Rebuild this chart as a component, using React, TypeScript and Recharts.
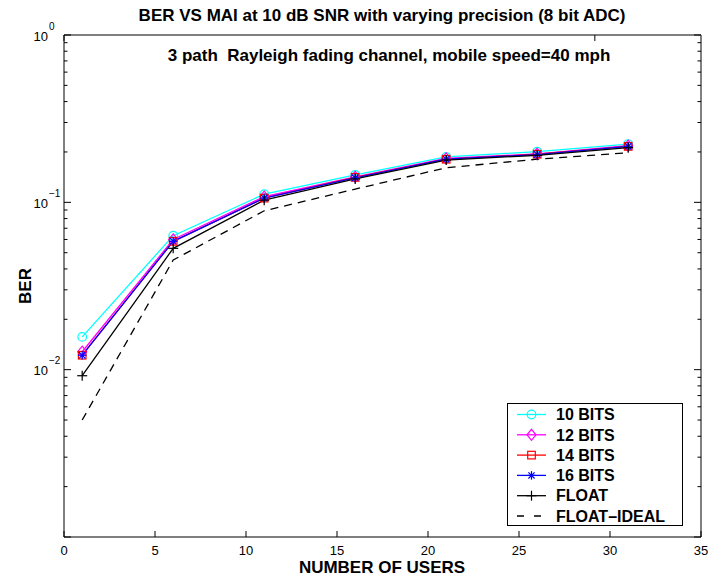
import { LineChart, Line, XAxis, YAxis, Legend } from 'recharts';

// number of users on the x axis
const users = [1, 6, 11, 16, 21, 26, 31];

// BER for each receiver precision
const bits10 = [0.0157, 0.0632, 0.112, 0.146, 0.187, 0.201, 0.223];
const bits12 = [0.0128, 0.0600, 0.108, 0.142, 0.183, 0.195, 0.218];
const bits14 = [0.0122, 0.0585, 0.106, 0.141, 0.181, 0.194, 0.216];
const bits16 = [0.0122, 0.0585, 0.106, 0.140, 0.181, 0.193, 0.216];
const floatBer = [0.0092, 0.0531, 0.103, 0.138, 0.179, 0.191, 0.212];
const floatIdeal = [0.0050, 0.0452, 0.089, 0.120, 0.161, 0.181, 0.198];

const xTicks = [0, 5, 10, 15, 20, 25, 30, 35];
const yDecades = [0.001, 0.01, 0.1, 1];
const yMinorSteps = [2, 3, 4, 5, 6, 7, 8, 9];
const yLabelValues = [1, 0.1, 0.01];
const yLabelExps = ['0', '\u22121', '\u22122'];

const TITLE = 'BER VS MAI at 10 dB SNR with varying precision (8 bit ADC)';
const NOTE = '3 path  Rayleigh fading channel, mobile speed=40 mph';

const FONT = '"Liberation Sans", Arial, Helvetica, sans-serif';

const SERIES = [
  { key: 'b10', name: '10 BITS', color: '#00ffff', marker: 'circle', values: bits10 },
  { key: 'b12', name: '12 BITS', color: '#ff00ff', marker: 'diamond', values: bits12 },
  { key: 'b14', name: '14 BITS', color: '#ff0000', marker: 'square', values: bits14 },
  { key: 'b16', name: '16 BITS', color: '#0000ff', marker: 'star', values: bits16 },
  { key: 'flt', name: 'FLOAT', color: '#000000', marker: 'plus', values: floatBer },
  { key: 'ideal', name: 'FLOAT\u2013IDEAL', color: '#000000', marker: '', values: floatIdeal, dash: true }
];

const data = users.map((u, i) => {
  const row: Record<string, number> = { users: u };
  SERIES.forEach((s) => { row[s.key] = s.values[i]; });
  return row;
});

const yTicks = [
  ...yDecades,
  ...yDecades.slice(0, 3).flatMap((d) => yMinorSteps.map((m) => +(d * m).toPrecision(3)))
].sort((a, b) => a - b);

function Marker({ type, cx, cy, color }: { type: string; cx: number; cy: number; color: string }) {
  const sw = 1.2;
  switch (type) {
    case 'circle':
      return <circle cx={cx} cy={cy} r={4.3} fill="none" stroke={color} strokeWidth={sw} />;
    case 'diamond':
      return (
        <polygon
          points={`${cx},${cy - 5.5} ${cx + 4.5},${cy} ${cx},${cy + 5.5} ${cx - 4.5},${cy}`}
          fill="none" stroke={color} strokeWidth={sw}
        />
      );
    case 'square':
      return <rect x={cx - 3.8} y={cy - 3.8} width={7.6} height={7.6} fill="none" stroke={color} strokeWidth={sw} />;
    case 'star': {
      const r = 4.3, d = 3.1;
      return (
        <g stroke={color} strokeWidth={sw}>
          <line x1={cx - r} x2={cx + r} y1={cy} y2={cy} />
          <line x1={cx} x2={cx} y1={cy - r} y2={cy + r} />
          <line x1={cx - d} x2={cx + d} y1={cy - d} y2={cy + d} />
          <line x1={cx - d} x2={cx + d} y1={cy + d} y2={cy - d} />
        </g>
      );
    }
    case 'plus': {
      const r = 5;
      return (
        <g stroke={color} strokeWidth={sw}>
          <line x1={cx - r} x2={cx + r} y1={cy} y2={cy} />
          <line x1={cx} x2={cx} y1={cy - r} y2={cy + r} />
        </g>
      );
    }
    default:
      return null;
  }
}

const makeDot = (type: string, color: string) => (props: any) => (
  <g key={`dot-${type}-${props.index}`}>
    {type ? <Marker type={type} cx={props.cx} cy={props.cy} color={color} /> : null}
  </g>
);

const BottomTick = ({ x, y, payload }: any) => (
  <g>
    <line x1={x} x2={x} y1={y} y2={y - 6} stroke="#000" />
    <text x={x} y={y + 18} textAnchor="middle" fontSize={13} fontFamily={FONT} fill="#000">
      {payload.value}
    </text>
  </g>
);

const TopTick = ({ x, y }: any) => <line x1={x} x2={x} y1={y} y2={y + 6} stroke="#000" />;

const LeftTick = ({ x, y, payload }: any) => {
  const major = yDecades.includes(payload.value);
  const li = yLabelValues.indexOf(payload.value);
  return (
    <g>
      <line x1={x} x2={x + (major ? 7 : 3.5)} y1={y} y2={y} stroke="#000" />
      {li >= 0 && (
        <g fontFamily={FONT} fill="#000">
          <text x={x - 16} y={y + 5.5} textAnchor="end" fontSize={13}>10</text>
          <text x={x - 15} y={y - 5.5} textAnchor="start" fontSize={10}>{yLabelExps[li]}</text>
        </g>
      )}
    </g>
  );
};

const RightTick = ({ x, y, payload }: any) => {
  const major = yDecades.includes(payload.value);
  return <line x1={x} x2={x - (major ? 7 : 3.5)} y1={y} y2={y} stroke="#000" />;
};

const LegendBox = () => (
  <svg width={176} height={123} style={{ display: 'block' }}>
    <rect x={0.5} y={0.5} width={175} height={122} fill="#fff" stroke="#000" />
    {SERIES.map((s, i) => {
      const y = 11.5 + i * 20.3;
      return (
        <g key={s.key}>
          <line x1={10} x2={39} y1={y} y2={y} stroke={s.color} strokeWidth={1.3}
            strokeDasharray={s.dash ? '7 10' : undefined} />
          <Marker type={s.marker} cx={24.5} cy={y} color={s.color} />
          <text x={49} y={y + 5.7} fontSize={16} fontWeight="bold" fontFamily={FONT} fill="#000">
            {s.name}
          </text>
        </g>
      );
    })}
  </svg>
);

export default function App() {
  return (
    <div style={{ position: 'absolute', left: 0, top: 0, width: 708, height: 580, background: '#fff' }}>
      <LineChart width={708} height={580} data={data} margin={{ top: 0, right: 0, bottom: 0, left: 0 }}>
        <XAxis
          dataKey="users" type="number" domain={[0, 35]} ticks={xTicks} interval={0}
          height={43} tickSize={0} tickMargin={0} tickLine={false}
          axisLine={{ stroke: '#000' }} tick={<BottomTick />} allowDataOverflow
        />
        <XAxis
          xAxisId="top" orientation="top" type="number" domain={[0, 35]} ticks={xTicks} interval={0}
          height={35} tickSize={0} tickMargin={0} tickLine={false}
          axisLine={{ stroke: '#000' }} tick={<TopTick />} allowDataOverflow
        />
        <YAxis
          type="number" scale="log" domain={[0.001, 1]} ticks={yTicks} interval={0}
          width={64} tickSize={0} tickMargin={0} tickLine={false}
          axisLine={{ stroke: '#000' }} tick={<LeftTick />} allowDataOverflow
        />
        <YAxis
          yAxisId="right" orientation="right" type="number" scale="log" domain={[0.001, 1]}
          ticks={yTicks} interval={0} width={7} tickSize={0} tickMargin={0} tickLine={false}
          axisLine={{ stroke: '#000' }} tick={<RightTick />} allowDataOverflow
        />
        <Legend
          layout="vertical" align="center" verticalAlign="middle"
          content={<LegendBox />}
          wrapperStyle={{ left: 507, top: 403, width: 176, height: 123 }}
        />
        {SERIES.map((s) => (
          <Line
            key={s.key} dataKey={s.key} name={s.name} stroke={s.color} strokeWidth={1.3}
            strokeDasharray={s.dash ? '8 6' : undefined}
            dot={makeDot(s.marker, s.color)} activeDot={false}
            isAnimationActive={false} type="linear"
          />
        ))}
      </LineChart>
      <svg width={708} height={580} style={{ position: 'absolute', left: 0, top: 0, pointerEvents: 'none' }}>
        <g fontFamily={FONT} fontWeight="bold" fill="#000" fontSize={17}>
          <text x={382} y={21} textAnchor="middle">{TITLE}</text>
          <text x={389} y={61} textAnchor="middle" style={{ whiteSpace: 'pre' }}>{NOTE}</text>
          <text x={382} y={573} textAnchor="middle">NUMBER OF USERS</text>
          <text x={31} y={286} textAnchor="middle" transform="rotate(-90 31 286)">BER</text>
        </g>
      </svg>
    </div>
  );
}
